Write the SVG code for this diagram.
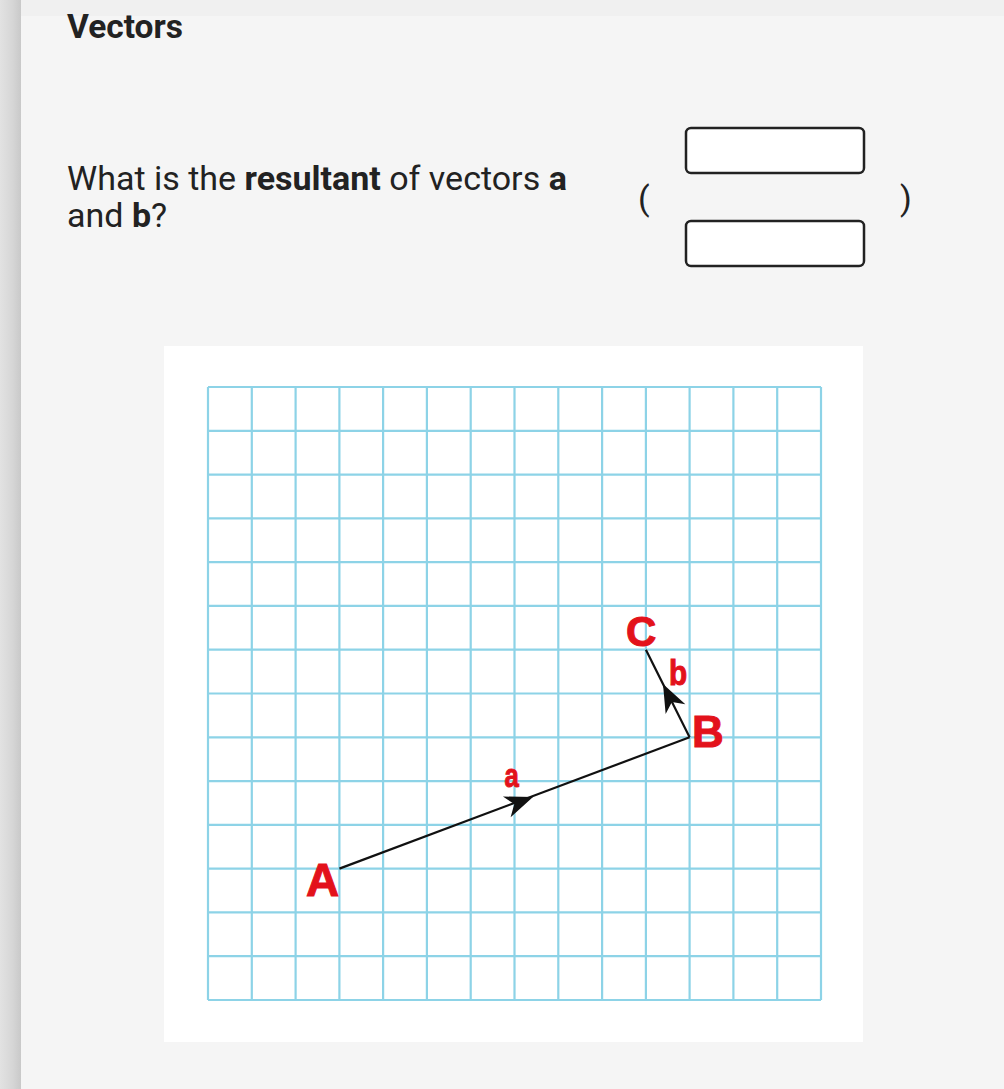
<svg xmlns="http://www.w3.org/2000/svg" width="1004" height="1089" viewBox="0 0 1004 1089">
  <defs>
    <linearGradient id="edge" x1="0" y1="0" x2="1" y2="0">
      <stop offset="0" stop-color="#e2e2e2"/>
      <stop offset="0.6" stop-color="#d6d6d6"/>
      <stop offset="1" stop-color="#c9c9c9"/>
    </linearGradient>
    <path id="head" d="M0,0 L-28,-11 L-20,0 L-28,11 Z"/>
  </defs>
  <style>
    .ui { font-family: Roboto, "Liberation Sans", sans-serif; fill: #222; }
    .box { fill: #ffffff; stroke: #222; stroke-width: 2.5; }
    .grid { fill: none; stroke: #8dd3e7; stroke-width: 2.2; }
    .vec { fill: none; stroke: #111; stroke-width: 2.2; }
    .lbl { font-family: "Liberation Sans", Arial, sans-serif; font-weight: bold; fill: #e3121b; stroke: #e3121b; stroke-width: 1; }
  </style>

  <rect x="0" y="0" width="1004" height="1089" fill="#f5f5f5"/>
  <rect x="20" y="0" width="984" height="16" fill="#f0f0f0"/>
  <rect x="0" y="0" width="21" height="1089" fill="url(#edge)"/>

  <g id="title">
    <text class="ui" x="67" y="38" font-size="33.5" font-weight="bold">Vectors</text>
  </g>

  <g id="question">
    <text class="ui" x="67" y="190" font-size="34">What is the <tspan font-weight="bold">resultant</tspan> of vectors <tspan font-weight="bold">a</tspan></text>
    <text class="ui" x="67" y="227" font-size="34">and <tspan font-weight="bold">b</tspan>?</text>
  </g>

  <g id="answer">
    <text class="ui" x="638" y="210" font-size="34">(</text>
    <rect class="box" x="686" y="128" width="178" height="45" rx="5"/>
    <rect class="box" x="686" y="221" width="178" height="45" rx="5"/>
    <text class="ui" x="900" y="210" font-size="34">)</text>
  </g>

  <g id="figure">
    <rect x="164" y="346" width="699" height="696" fill="#ffffff"/>
    <path class="grid" d="M208,387V1000 M251.8,387V1000 M295.6,387V1000 M339.4,387V1000 M383.1,387V1000 M426.9,387V1000 M470.7,387V1000 M514.5,387V1000 M558.3,387V1000 M602.1,387V1000 M645.9,387V1000 M689.6,387V1000 M733.4,387V1000 M777.2,387V1000 M821,387V1000
      M208,387H821 M208,430.8H821 M208,474.6H821 M208,518.4H821 M208,562.1H821 M208,605.9H821 M208,649.7H821 M208,693.5H821 M208,737.3H821 M208,781.1H821 M208,824.9H821 M208,868.6H821 M208,912.4H821 M208,956.2H821 M208,1000H821"/>
  </g>

  <g id="connectors">
    <g id="vector-a">
      <line class="vec" x1="339.4" y1="868.6" x2="689.6" y2="737.3"/>
      <use href="#head" transform="translate(533,797) rotate(-20.55)" fill="#111"/>
    </g>
    <g id="vector-b">
      <line class="vec" x1="689.6" y1="737.3" x2="645.9" y2="649.7"/>
      <use href="#head" transform="translate(663,684) rotate(-116.5)" fill="#111"/>
    </g>
  </g>

  <g id="point-A"><text class="lbl" x="306" y="896" font-size="46">A</text></g>
  <g id="point-B"><text class="lbl" x="692" y="747" font-size="44">B</text></g>
  <g id="point-C"><text class="lbl" x="626" y="646" font-size="42">C</text></g>
  <g id="label-a"><text class="lbl" transform="translate(504.5,787) scale(0.78,1)" font-size="33">a</text></g>
  <g id="label-b"><text class="lbl" transform="translate(669,684.5) scale(0.85,1)" font-size="35">b</text></g>
</svg>
